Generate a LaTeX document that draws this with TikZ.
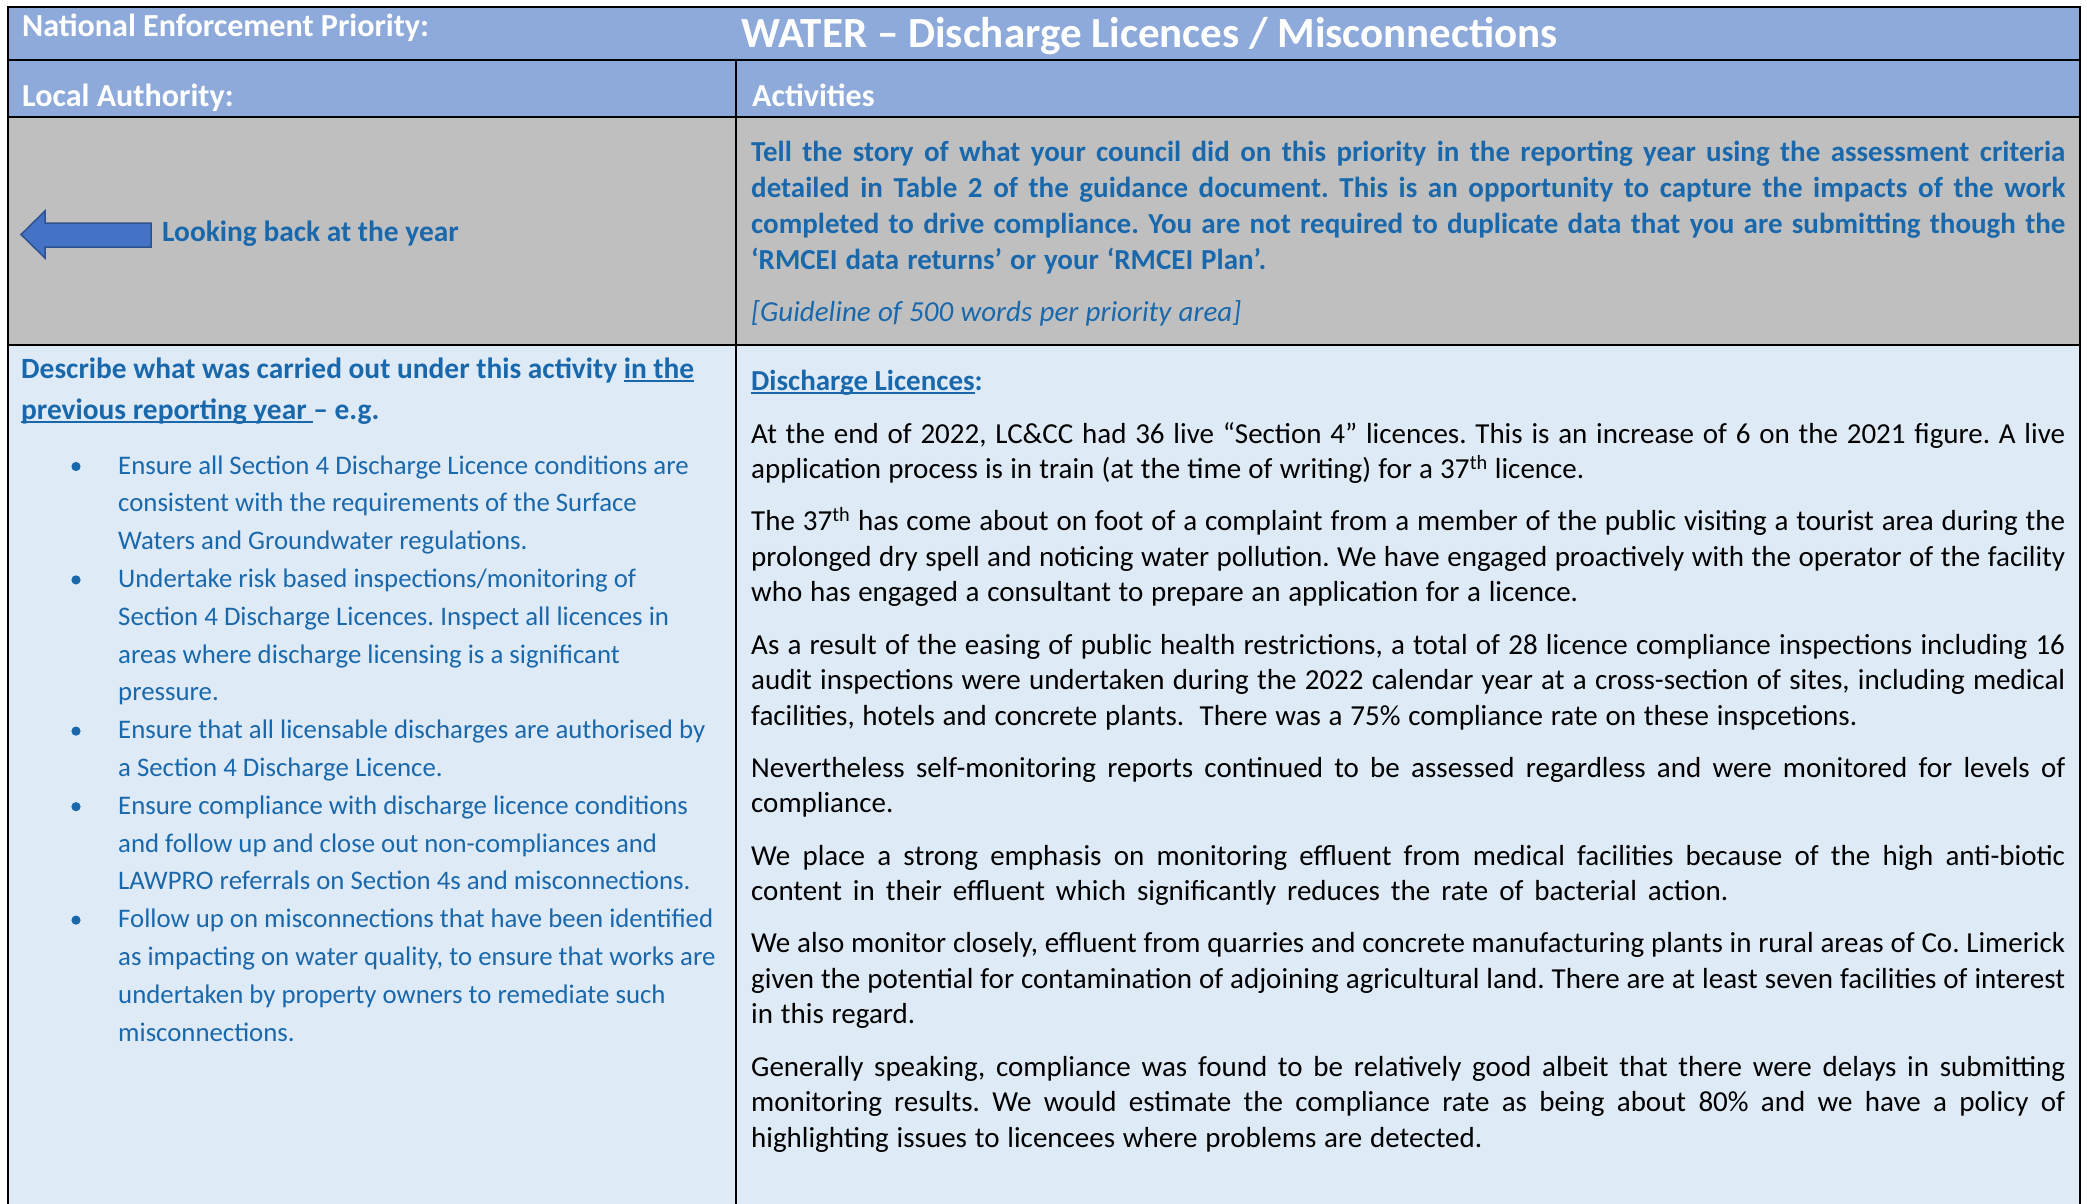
\documentclass[tikz,border=0pt]{standalone}
\usepackage{fontspec}
\usepackage{graphicx}
\setmainfont{Carlito}
\definecolor{hdrblue}{HTML}{8EAADB}
\definecolor{cellgray}{HTML}{BFBFBF}
\definecolor{cellblue}{HTML}{DEEAF6}
\definecolor{txtblue}{HTML}{1A68AC}
\definecolor{arrowfill}{HTML}{4472C4}
\definecolor{arrowedge}{HTML}{2F528F}
\newlength\jlwd
\newlength\fitwd
\newcommand\fl[2]{\leavevmode\setlength\fitwd{#1}\settowidth\jlwd{#2}%
  \ifdim\jlwd>\fitwd\resizebox{\fitwd}{\height}{#2}%
  \else\makebox[\fitwd][s]{#2}\fi}
\newcommand\jl[1]{\fl{\linewidth}{#1}}
\newcommand\fixsp{\spaceskip=0pt\xspaceskip=0pt\relax}
\newlength\ulwd
\newcommand\myul[1]{\leavevmode\settowidth\ulwd{#1}\rlap{\rule[-0.13em]{\ulwd}{0.065em}}#1}
\tikzset{
  grid/.style={line width=2.6pt, draw=black},
  hdr/.style={anchor=base west, inner sep=0pt, text=white, font=\bfseries\fontsize{32.1}{38}\selectfont},
  para/.style={anchor=base west, inner sep=0pt, align=left},
}
\frenchspacing
\begin{document}
\begin{tikzpicture}[x=1pt,y=-1pt]
\useasboundingbox (0,0) rectangle (2087,1204);
% cell fills
\fill[hdrblue] (8,7) rectangle (2080,117);
\fill[cellgray] (8,117) rectangle (2080,345);
\fill[cellblue] (8,345) rectangle (2080,1204);
% rules
\draw[grid] (8,1210) -- (8,7) -- (2080,7) -- (2080,1210);
\draw[grid] (8,60) -- (2080,60);
\draw[grid] (8,117) -- (2080,117);
\draw[grid] (8,345) -- (2080,345);
\draw[grid] (736,60) -- (736,1210);
% headers
\node[hdr] (nep) at (22,37) {National Enforcement Priority:};
\node[hdr, font=\bfseries\fontsize{43}{50}\selectfont] (title) at (741,48) {WATER – Discharge Licences / Misconnections};
\node[hdr] (la) at (22,107) {Local Authority:};
\node[hdr] (act) at (752,107) {Activities};
% arrow
\filldraw[fill=arrowfill, draw=arrowedge, line width=1.5pt]
  (21,234.5) -- (45,211) -- (45,223) -- (151,223) -- (151,247) -- (45,247) -- (45,258) -- cycle;
\node[anchor=base west, inner sep=0pt, text=txtblue, font=\bfseries\fontsize{29.4}{35}\selectfont] (look) at (162,241) {Looking back at the year};
% gray row text
\node[para, text width=1314pt, text=txtblue, font=\bfseries\fontsize{29}{36}\selectfont] (tell) at (751,161.5) {\fixsp
\jl{Tell the story of what your council did on this priority in the reporting year using the assessment criteria}\\
\jl{detailed in Table 2 of the guidance document. This is an opportunity to capture the impacts of the work}\\
\jl{completed to drive compliance. You are not required to duplicate data that you are submitting though the}\\
\fl{515pt}{‘RMCEI data returns’ or your ‘RMCEI Plan’.}\\[15.5pt]
{\mdseries\itshape\fl{490pt}{[Guideline of 500 words per priority area]}}};
% left column
\node[para, text width=710pt, text=txtblue, font=\bfseries\fontsize{29.4}{41.5}\selectfont] (desc) at (21,378) {\fixsp
Describe what was carried out under this activity \myul{in the}\\
\myul{previous reporting year\ }– e.g.};
\node[para, text width=660pt, text=txtblue, font=\fontsize{26.8}{37.8}\selectfont] (bul) at (118,474) {\fixsp
Ensure all Section 4 Discharge Licence conditions are\\
consistent with the requirements of the Surface\\
Waters and Groundwater regulations.\\
Undertake risk based inspections/monitoring of\\
Section 4 Discharge Licences. Inspect all licences in\\
areas where discharge licensing is a significant\\
pressure.\\
Ensure that all licensable discharges are authorised by\\
a Section 4 Discharge Licence.\\
Ensure compliance with discharge licence conditions\\
and follow up and close out non-compliances and\\
LAWPRO referrals on Section 4s and misconnections.\\
Follow up on misconnections that have been identified\\
as impacting on water quality, to ensure that works are\\
undertaken by property owners to remediate such\\
misconnections.};
\foreach \by in {474,587.4,738.6,814.2,927.6} \fill[txtblue] (76,\by-7.5) circle (4.6pt);
% right column
\node[para, text width=1314pt, text=black, font=\fontsize{29}{35.6}\selectfont] (body) at (751,390) {\fixsp
{\color{txtblue}\bfseries\myul{Discharge Licences}:}\\[17.4pt]
\jl{At the end of 2022, LC\&CC had 36 live “Section 4” licences. This is an increase of 6 on the 2021 figure. A live}\\
\fl{833pt}{application process is in train (at the time of writing) for a 37\textsuperscript{th} licence.}\\[16.5pt]
\jl{The 37\textsuperscript{th} has come about on foot of a complaint from a member of the public visiting a tourist area during the}\\
\jl{prolonged dry spell and noticing water pollution. We have engaged proactively with the operator of the facility}\\
\fl{827pt}{who has engaged a consultant to prepare an application for a licence.}\\[16.5pt]
\jl{As a result of the easing of public health restrictions, a total of 28 licence compliance inspections including 16}\\
\jl{audit inspections were undertaken during the 2022 calendar year at a cross-section of sites, including medical}\\
\fl{1106pt}{facilities, hotels and concrete plants.\ \ There was a 75\% compliance rate on these inspcetions.}\\[16.5pt]
\jl{Nevertheless self-monitoring reports continued to be assessed regardless and were monitored for levels of}\\
compliance.\\[16.5pt]
\jl{We place a strong emphasis on monitoring effluent from medical facilities because of the high anti-biotic}\\
\fl{977pt}{content in their effluent which significantly reduces the rate of bacterial action.}\\[16.5pt]
\jl{We also monitor closely, effluent from quarries and concrete manufacturing plants in rural areas of Co. Limerick}\\
\jl{given the potential for contamination of adjoining agricultural land. There are at least seven facilities of interest}\\
\fl{164pt}{in this regard.}\\[16.5pt]
\jl{Generally speaking, compliance was found to be relatively good albeit that there were delays in submitting}\\
\jl{monitoring results. We would estimate the compliance rate as being about 80\% and we have a policy of}\\
\fl{731pt}{highlighting issues to licencees where problems are detected.}};
\end{tikzpicture}
\end{document}
